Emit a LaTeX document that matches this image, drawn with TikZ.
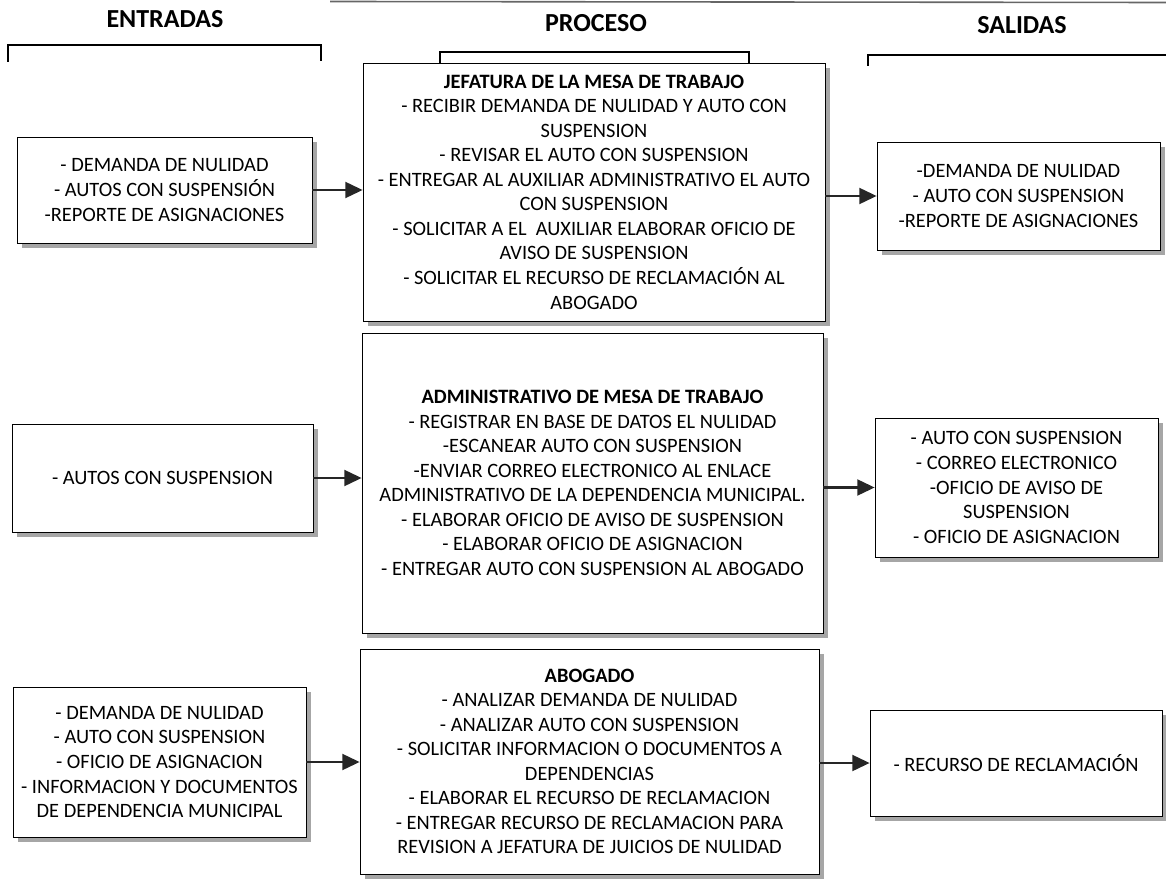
\documentclass[tikz,border=0pt]{standalone}
\usepackage{fontspec}
\setmainfont{Carlito}
\usepackage{tikz}
\usetikzlibrary{arrows.meta,shadows}

\begin{document}
\begin{tikzpicture}[
        x=0.75pt,
        y=-0.75pt,
        font=\fontsize{15.3}{18.4}\selectfont,
        caja/.style={draw, line width=0.6pt, fill=white, inner sep=0pt, align=center,
            drop shadow={shadow xshift=3.5pt, shadow yshift=-3.5pt, fill=black!35, opacity=1}},
        titulo/.style={font=\fontsize{19.5}{22}\selectfont\bfseries},
        llave/.style={line width=1.1pt},
        flecha/.style={-{Triangle[length=13pt,width=12pt]}, line width=1.6pt, black!85}
    ]
        \useasboundingbox (0,0) rectangle (1166,880);
        \draw[black!60, line width=1.2pt] (330,1.5) -- (1166,2.5);

        % column headings and brackets
        \node[titulo] (entradas) at (165,19) {ENTRADAS};
        \node[titulo] (proceso) at (596,23) {PROCESO};
        \node[titulo] (salidas) at (1022,25) {SALIDAS};

        \draw[llave] (8,62) -- (8,45) -- (321,45) -- (321,61);
        \draw[llave] (440,64) -- (440,52) -- (749,52) -- (749,64);
        \draw[llave] (868,66) -- (868,55) -- (1166,55);

        % entradas
        \node[caja, minimum width=221.25pt, minimum height=79.5pt] (e1) at (164.5,190)
            {- DEMANDA DE NULIDAD\\- AUTOS CON SUSPENSIÓN\\-REPORTE DE ASIGNACIONES};
        \node[caja, minimum width=225.75pt, minimum height=81pt] (e2) at (162.5,478)
            {- AUTOS CON SUSPENSION};
        \node[caja, minimum width=219.75pt, minimum height=112.5pt] (e3) at (159.5,762)
            {- DEMANDA DE NULIDAD\\- AUTO CON SUSPENSION\\- OFICIO DE ASIGNACION\\- INFORMACION Y DOCUMENTOS\\DE DEPENDENCIA MUNICIPAL};

        % proceso
        \node[caja, minimum width=346.5pt, minimum height=193.5pt] (p1) at (594,192)
            {\textbf{JEFATURA DE LA MESA DE TRABAJO}\\- RECIBIR DEMANDA DE NULIDAD Y AUTO CON\\SUSPENSION\\- REVISAR EL AUTO CON SUSPENSION\\- ENTREGAR AL AUXILIAR ADMINISTRATIVO EL AUTO\\CON SUSPENSION\\- SOLICITAR A EL \ AUXILIAR ELABORAR OFICIO DE\\AVISO DE SUSPENSION\\- SOLICITAR EL RECURSO DE RECLAMACIÓN AL\\ABOGADO};
        \node[caja, minimum width=345.75pt, minimum height=225pt] (p2) at (592.5,483)
            {\textbf{ADMINISTRATIVO DE MESA DE TRABAJO}\\- REGISTRAR EN BASE DE DATOS EL NULIDAD\\-ESCANEAR AUTO CON SUSPENSION\\-ENVIAR CORREO ELECTRONICO AL ENLACE\\ADMINISTRATIVO DE LA DEPENDENCIA MUNICIPAL.\\- ELABORAR OFICIO DE AVISO DE SUSPENSION\\- ELABORAR OFICIO DE ASIGNACION\\- ENTREGAR AUTO CON SUSPENSION AL ABOGADO};
        \node[caja, minimum width=344.25pt, minimum height=168.75pt] (p3) at (589.5,761.5)
            {\textbf{ABOGADO}\\- ANALIZAR DEMANDA DE NULIDAD\\- ANALIZAR AUTO CON SUSPENSION\\- SOLICITAR INFORMACION O DOCUMENTOS A\\DEPENDENCIAS\\- ELABORAR EL RECURSO DE RECLAMACION\\- ENTREGAR RECURSO DE RECLAMACION PARA\\REVISION A JEFATURA DE JUICIOS DE NULIDAD};

        % salidas
        \node[caja, minimum width=212.25pt, minimum height=81pt] (s1) at (1018.5,196)
            {-DEMANDA DE NULIDAD\\- AUTO CON SUSPENSION\\-REPORTE DE ASIGNACIONES};
        \node[caja, minimum width=212.25pt, minimum height=104.25pt] (s2) at (1016.5,487.5)
            {- AUTO CON SUSPENSION\\- CORREO ELECTRONICO\\-OFICIO DE AVISO DE\\SUSPENSION\\- OFICIO DE ASIGNACION};
        \node[caja, minimum width=219pt, minimum height=79.5pt] (s3) at (1016,763)
            {- RECURSO DE RECLAMACIÓN};

        \foreach \ent/\pro/\sal in {e1/p1/s1,e2/p2/s2,e3/p3/s3} {
            \draw[flecha] (\ent.east) -- (\ent.east -| \pro.west);
            \draw[flecha] (\sal.west -| \pro.east) -- (\sal.west);
        }
    \end{tikzpicture}
\end{document}
